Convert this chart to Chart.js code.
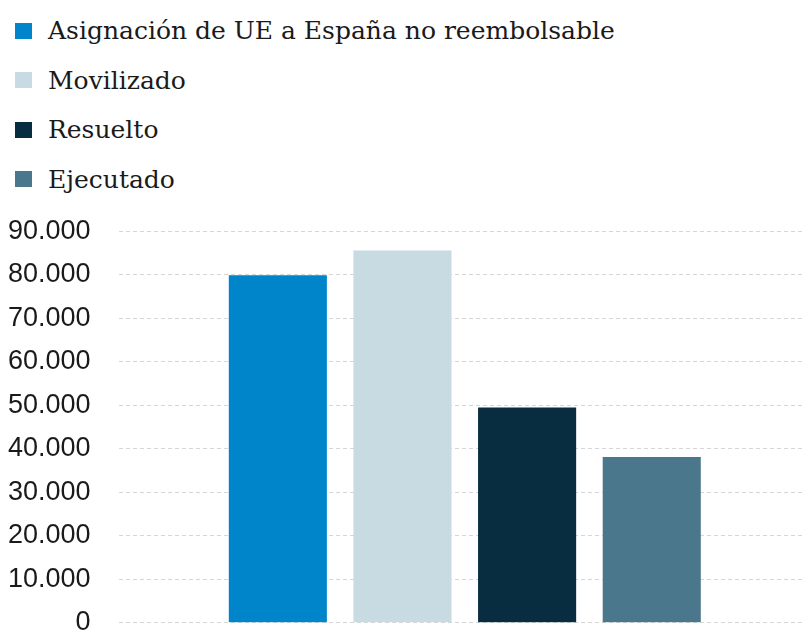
<!DOCTYPE html>
<html lang="es">
<head>
<meta charset="utf-8">
<script src="https://cdn.jsdelivr.net/npm/chart.js@4/dist/chart.umd.min.js"></script>
<style>
  html, body { margin: 0; padding: 0; background: #fff; }
  body { width: 803px; height: 632px; position: relative; overflow: hidden; }
  #legend { position: absolute; left: 15px; top: 6px; list-style: none; margin: 0; padding: 0;
            font-family: "DejaVu Serif", serif; font-size: 25px; color: #1a1a1a; }
  #legend li { height: 49.5px; line-height: 49.5px; display: flex; align-items: center; white-space: nowrap; }
  #legend .box { width: 17px; height: 16px; margin-right: 16px; display: inline-block; }
  /* the plot runs a little past the right and bottom edges, as in the original */
  #wrap { position: absolute; left: 0; top: 215px; width: 811px; height: 424px; }
</style>
</head>
<body>
<ul id="legend"></ul>
<div id="wrap"><canvas id="myChart"></canvas></div>
<script>
// datos (millones de euros)
const seriesLabels = ["Asignación de UE a España no reembolsable", "Movilizado", "Resuelto", "Ejecutado"];
const seriesValues = [79900, 85580, 49460, 38120];
const seriesColors = ["#0085ca", "#c8dbe2", "#082c40", "#4b778c"];
const categories = [""];

// 90000 -> "90.000"
function formatMiles(v) {
    return v.toString().replace(/\B(?=(\d{3})+(?!\d))/g, ".");
}

const datasets = seriesLabels.map((label, i) => ({
    label: label,
    data: [seriesValues[i]],
    backgroundColor: seriesColors[i],
    borderWidth: 0,
    categoryPercentage: 0.72,
    barPercentage: 0.787
}));

const ctx = document.getElementById('myChart');

const chart = new Chart(ctx, {
    type: "bar",
    data: {
        labels: categories,
        datasets: datasets
    },
    options: {
        responsive: true,
        maintainAspectRatio: false,
        animation: false,
        layout: { padding: { left: 8, right: 0, top: 0, bottom: 0 } },
        plugins: {
            legend: { display: false },
            tooltip: { enabled: false }
        },
        scales: {
            x: { display: false },
            y: {
                min: 0,
                max: 90000,
                grid: {
                    color: "#d6d6d6",
                    lineWidth: 1,
                    drawTicks: true,
                    tickLength: 28,
                    tickColor: "rgba(0,0,0,0)"
                },
                border: { display: false, dash: [4, 3] },
                ticks: {
                    stepSize: 10000,
                    padding: 0,
                    color: "#1a1a1a",
                    font: { family: "'Liberation Sans', Arial, sans-serif", size: 27 },
                    callback: (v) => formatMiles(v)
                }
            }
        }
    }
});

// leyenda vertical en HTML
const legendEl = document.getElementById('legend');
chart.data.datasets.forEach(ds => {
    const li = document.createElement('li');
    const box = document.createElement('span');
    box.className = 'box';
    box.style.background = ds.backgroundColor;
    li.appendChild(box);
    li.appendChild(document.createTextNode(ds.label));
    legendEl.appendChild(li);
});
</script>
</body>
</html>
